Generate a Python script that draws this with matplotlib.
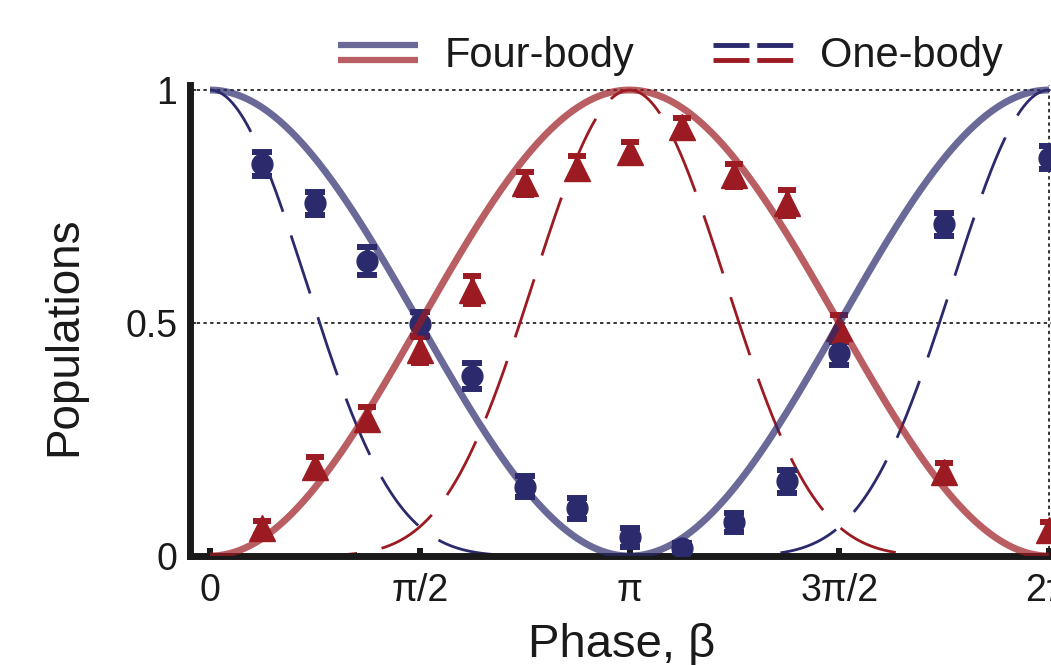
import numpy as np
import matplotlib
matplotlib.use("Agg")
import matplotlib.pyplot as plt
from matplotlib.lines import Line2D
from matplotlib.legend_handler import HandlerBase

plt.rcParams['font.family'] = ['Liberation Sans', 'DejaVu Sans']

# ---------------- data ----------------
# measured phases in units of pi/8
phase_steps = [1, 2, 3, 4, 5, 6, 7, 8, 9, 10, 11, 12, 14, 16]
blue_pop = [0.841, 0.757, 0.633, 0.498, 0.386, 0.149, 0.102, 0.040, 0.018,
            0.072, 0.160, 0.435, 0.712, 0.855]
blue_err = [0.025, 0.025, 0.030, 0.025, 0.028, 0.022, 0.022, 0.020, 0.010,
            0.020, 0.025, 0.025, 0.025, 0.025]
red_pop = [0.060, 0.190, 0.295, 0.442, 0.571, 0.800, 0.833, 0.866, 0.920,
           0.817, 0.757, 0.490, 0.180, 0.055]
red_err = [0.015, 0.022, 0.025, 0.028, 0.030, 0.025, 0.025, 0.022, 0.020,
           0.025, 0.028, 0.028, 0.020, 0.018]

x_ticks_labels = ['0', '\u03c0/2', '\u03c0', '3\u03c0/2', '2\u03c0']
y_ticks_values = [0, 0.5, 1]
y_ticks_labels = ['0', '0.5', '1']

BLUE = '#2b2a6c'
RED = '#9c1b22'
INK = '#1a1a1a'

beta = np.array(phase_steps) * np.pi / 8

# theory curves (four-body: cos^2(b/2); one-body: cos^8(b/2))
bfine = np.linspace(0, 2 * np.pi, 600)
four_blue = np.cos(bfine / 2) ** 2
four_red = np.sin(bfine / 2) ** 2
one_blue = np.cos(bfine / 2) ** 8
one_red = np.sin(bfine / 2) ** 8

# ---------------- figure ----------------
W, H = 1051, 665
fig = plt.figure(figsize=(W / 100, H / 100), dpi=100)
# axes: left spine at 190 px, x=0 at 210 px, x=2pi at 1049 px; y=0 at 556 px, y=1 at 90 px
xl0, xl1 = -0.15, 2 * np.pi + 0.15
ppx = (1049 - 210) / (2 * np.pi)
left_px = 210 + xl0 * ppx
right_px = 210 + xl1 * ppx
yl0, yl1 = 0.0, 1.01
ppy = (556 - 90)
bottom_px = 556 - yl0 * ppy
top_px = 556 - yl1 * ppy
ax = fig.add_axes([left_px / W, 1 - bottom_px / H,
                   (right_px - left_px) / W, (bottom_px - top_px) / H])
ax.set_xlim(xl0, xl1)
ax.set_ylim(yl0, yl1)

# dotted guide lines
for yv in [0.5, 1.0]:
    ax.axhline(yv, color='black', lw=1.1, ls=(0, (2.2, 2.2)), zorder=1)
ax.axvline(2 * np.pi, color='black', lw=1.1, ls=(0, (2.2, 2.2)), zorder=1)

# one-body dashed theory
ax.plot(bfine, one_blue, color=BLUE, lw=2.0, dashes=(22, 9), zorder=2)
ax.plot(bfine, one_red, color=RED, lw=2.0, dashes=(22, 9), zorder=2)

# data points
ax.errorbar(beta, blue_pop, yerr=blue_err, fmt='o', color=BLUE, ms=15,
            elinewidth=3.5, capsize=7.0, capthick=4.3, zorder=3)
ax.errorbar(beta, red_pop, yerr=red_err, fmt='^', color=RED, ms=19,
            elinewidth=3.5, capsize=6.5, capthick=4.3, zorder=3)

# four-body solid theory
ax.plot(bfine, four_blue, color=BLUE, lw=5, alpha=0.7, zorder=4,
        solid_capstyle='butt')
ax.plot(bfine, four_red, color=RED, lw=5, alpha=0.7, zorder=4,
        solid_capstyle='butt')

# spines / ticks
for s in ['top', 'right']:
    ax.spines[s].set_visible(False)
for s in ['left', 'bottom']:
    ax.spines[s].set_linewidth(5)
    ax.spines[s].set_color(INK)
    ax.spines[s].set_capstyle('projecting')

ax.set_xticks(np.arange(5) * np.pi / 2)
ax.set_xticklabels(x_ticks_labels)
ax.set_yticks(y_ticks_values)
ax.set_yticklabels(y_ticks_labels)
ax.tick_params(axis='x', direction='in', length=6, width=4.3, color=INK,
               labelsize=27, pad=12)
ax.tick_params(axis='y', direction='in', length=4.5, width=1.2, color=INK,
               labelsize=27, pad=9)
for lab in ax.get_xticklabels() + ax.get_yticklabels():
    lab.set_color(INK)

fig.text(622 / W, 1 - 657 / H, 'Phase, \u03b2', fontsize=34, ha='center',
         va='baseline', color=INK)
fig.text(64 / W, 1 - 336 / H, 'Populations', fontsize=33, rotation=90,
         ha='center', va='center', color=INK)


# ---------------- legend ----------------
class PairHandler(HandlerBase):
    def create_artists(self, legend, orig_handle, xdescent, ydescent,
                       width, height, fontsize, trans):
        arts = []
        off = 0.18 * fontsize
        yc = height / 2 - ydescent
        for ln, dy in zip(orig_handle, [off, -off]):
            l = Line2D([-xdescent, -xdescent + width], [yc + dy, yc + dy],
                       color=ln.get_color(), lw=ln.get_linewidth(),
                       alpha=ln.get_alpha(), solid_capstyle='butt',
                       dash_capstyle='butt')
            if ln.get_linestyle() == '--':
                l.set_dashes((7.4, 1.6))
            l.set_transform(trans)
            arts.append(l)
        return arts


h_four = (Line2D([], [], color=BLUE, lw=4.5, alpha=0.7),
          Line2D([], [], color=RED, lw=4.5, alpha=0.7))
h_one = (Line2D([], [], color=BLUE, lw=3.5, ls='--'),
         Line2D([], [], color=RED, lw=3.5, ls='--'))
leg = fig.legend([h_four, h_one], ['Four-body', 'One-body'],
                 handler_map={tuple: PairHandler()},
                 loc='center left', bbox_to_anchor=(338 / W, 1 - 56 / H),
                 ncol=2, frameon=False, fontsize=30, handlelength=1.92,
                 handletextpad=0.65, columnspacing=1.87, borderpad=0,
                 borderaxespad=0)
for t in leg.get_texts():
    t.set_color(INK)

fig.savefig('out.png', dpi=100)
